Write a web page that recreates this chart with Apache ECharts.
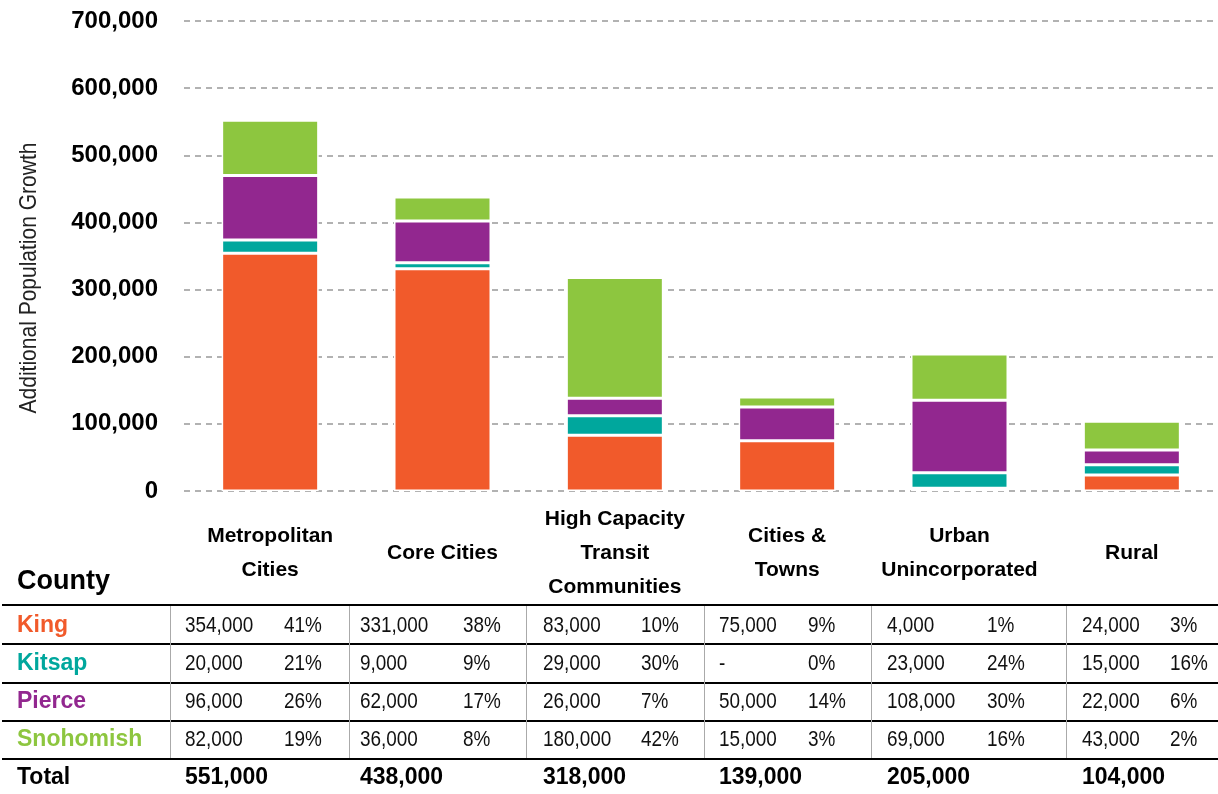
<!DOCTYPE html>
<html>
<head>
<meta charset="utf-8">
<script src="https://cdn.jsdelivr.net/npm/echarts@6/dist/echarts.min.js"></script>
<style>
html,body{margin:0;padding:0;background:#fff;}
#chart{width:1218px;height:794px;}
</style>
</head>
<body>
<div id="chart"></div>
<script>
// ---- data ----
const categories = ['Metropolitan\nCities', 'Core Cities', 'High Capacity\nTransit\nCommunities', 'Cities &\nTowns', 'Urban\nUnincorporated', 'Rural'];
const counties = ['King', 'Kitsap', 'Pierce', 'Snohomish'];
const king = [354000, 331000, 83000, 75000, 4000, 24000];
const kitsap = [20000, 9000, 29000, 0, 23000, 15000];
const pierce = [96000, 62000, 26000, 50000, 108000, 22000];
const snohomish = [82000, 36000, 180000, 15000, 69000, 43000];
const kingPct = ['41%', '38%', '10%', '9%', '1%', '3%'];
const kitsapPct = ['21%', '9%', '30%', '0%', '24%', '16%'];
const piercePct = ['26%', '17%', '7%', '14%', '30%', '6%'];
const snohomishPct = ['19%', '8%', '42%', '3%', '16%', '2%'];
const totals = [551000, 438000, 318000, 139000, 205000, 104000];
const yTicks = [0, 100000, 200000, 300000, 400000, 500000, 600000, 700000];

// ---- style ----
const colors = ['#F15A2B', '#00A79D', '#92278F', '#8DC63F'];
const REG = "'Liberation Sans', Arial, sans-serif";
const BOLD = "'Liberation Sans', Arial, sans-serif";

const seriesValues = [king, kitsap, pierce, snohomish];
const pctValues = [kingPct, kitsapPct, piercePct, snohomishPct];
const fmt = v => v.toLocaleString('en-US');

const chart = echarts.init(document.getElementById('chart'), null, {renderer: 'canvas'});

// table layout
const valX = [185, 360, 543, 719, 887, 1082];
const pctX = [284, 463, 641, 808, 987, 1170];
const rowY = [626, 664, 702, 740, 778];
const hLines = [605, 644, 683, 721, 759];
const vLines = [170, 349, 526, 704, 871, 1066];
const NARROW_SCALE = 0.86;

const graphics = [];
graphics.push({
  type: 'text', x: 29, y: 278, rotation: Math.PI / 2, scaleX: 0.875,
  style: {text: 'Additional Population Growth', fontFamily: REG, fontSize: 24, fill: '#222', align: 'center', verticalAlign: 'middle'}
});
graphics.push({
  type: 'text', x: 17, y: 582,
  style: {text: 'County', fontFamily: BOLD, fontWeight: 'bold', fontSize: 27, fill: '#000', align: 'left', verticalAlign: 'middle'}
});
hLines.forEach(y => graphics.push({type: 'line', shape: {x1: 2, y1: y, x2: 1218, y2: y}, style: {stroke: '#000', lineWidth: 2}}));
vLines.forEach(x => graphics.push({type: 'line', shape: {x1: x + 0.5, y1: hLines[0] + 1, x2: x + 0.5, y2: hLines[hLines.length - 1] - 1}, style: {stroke: '#aaa', lineWidth: 1}}));
counties.forEach((c, r) => {
  graphics.push({type: 'text', x: 17, y: rowY[r], style: {text: c, fontFamily: BOLD, fontWeight: 'bold', fontSize: 23, fill: colors[r], align: 'left', verticalAlign: 'middle'}});
  seriesValues[r].forEach((v, i) => {
    graphics.push({type: 'text', x: valX[i], y: rowY[r], scaleX: NARROW_SCALE, style: {text: v === 0 ? '-' : fmt(v), fontFamily: REG, fontSize: 22, fill: '#111', align: 'left', verticalAlign: 'middle'}});
    graphics.push({type: 'text', x: pctX[i], y: rowY[r], scaleX: NARROW_SCALE, style: {text: pctValues[r][i], fontFamily: REG, fontSize: 22, fill: '#111', align: 'left', verticalAlign: 'middle'}});
  });
});
graphics.push({type: 'text', x: 17, y: rowY[4], style: {text: 'Total', fontFamily: BOLD, fontWeight: 'bold', fontSize: 23, fill: '#000', align: 'left', verticalAlign: 'middle'}});
totals.forEach((v, i) => graphics.push({type: 'text', x: valX[i], y: rowY[4], style: {text: fmt(v), fontFamily: BOLD, fontWeight: 'bold', fontSize: 23, fill: '#000', align: 'left', verticalAlign: 'middle'}}));

const option = {
  animation: false,
  backgroundColor: '#fff',
  grid: {left: 184, top: 21, width: 1037, height: 470, containLabel: false},
  xAxis: {
    type: 'category', data: categories,
    axisLine: {show: false}, axisTick: {show: false},
    axisLabel: {interval: 0, fontFamily: BOLD, fontWeight: 'bold', fontSize: 21, color: '#000', lineHeight: 34, verticalAlign: 'middle', margin: 62}
  },
  yAxis: {
    type: 'value', min: 0, max: yTicks[yTicks.length - 1], interval: 100000,
    axisLine: {show: false}, axisTick: {show: false},
    axisLabel: {fontFamily: BOLD, fontWeight: 'bold', fontSize: 24, color: '#000', margin: 26, formatter: v => fmt(v)},
    splitLine: {lineStyle: {color: '#999', width: 1.5, type: [6, 5]}}
  },
  series: counties.map((c, i) => ({
    name: c, type: 'bar', stack: 'total', data: seriesValues[i], barWidth: 97,
    itemStyle: {color: colors[i], borderColor: '#fff', borderWidth: 1.5}
  })),
  graphic: graphics
};
chart.setOption(option);
</script>
</body>
</html>
